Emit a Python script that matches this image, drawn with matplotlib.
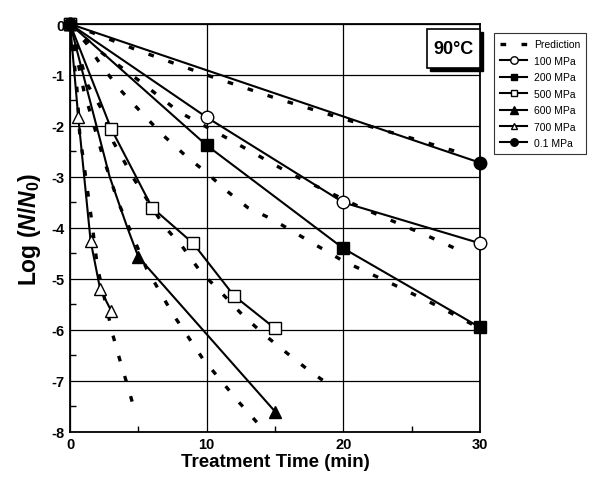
import matplotlib
matplotlib.use("Agg")
import matplotlib.pyplot as plt
from matplotlib.patches import Rectangle
from matplotlib.ticker import MultipleLocator

plt.rcParams["font.family"] = ["Liberation Sans", "DejaVu Sans"]
plt.rcParams["font.weight"] = "bold"
plt.rcParams["axes.unicode_minus"] = False
plt.rcParams["mathtext.fontset"] = "custom"
plt.rcParams["mathtext.it"] = "Liberation Sans:italic:bold"
plt.rcParams["mathtext.rm"] = "Liberation Sans:bold"

# measured survival, log(N/N0) vs treatment time (min)
t_01 = [0, 30]
y_01 = [0, -2.72]
t_100 = [0, 10, 20, 30]
y_100 = [0, -1.83, -3.5, -4.3]
t_200 = [0, 10, 20, 30]
y_200 = [0, -2.38, -4.4, -5.95]
t_500 = [0, 3, 6, 9, 12, 15]
y_500 = [0, -2.05, -3.6, -4.3, -5.33, -5.97]
t_600 = [0, 2.9, 4.2, 5, 15]
y_600 = [0, -3.0, -4.0, -4.57, -7.6]
t_700 = [0, 0.6, 1.5, 2.2, 3.0]
y_700 = [0, -1.83, -4.25, -5.2, -5.62]

# model predictions
pt_01 = [0, 5, 10, 15, 20, 25, 29]
py_01 = [0, -0.52, -1.0, -1.45, -1.86, -2.24, -2.56]
pt_100 = [0, 2, 5, 8, 11.5, 16.3, 21.3, 26.2, 29]
py_100 = [0, -0.5, -1.1, -1.73, -2.24, -2.96, -3.6, -4.16, -4.5]
pt_200 = [0, 1.25, 2.3, 3.7, 5.2, 6.8, 8.4, 10, 11.5, 13, 14.8, 16.5, 20, 23.6, 26.9, 29.5]
py_200 = [0, -0.4, -0.82, -1.3, -1.73, -2.18, -2.57, -2.92, -3.28, -3.6, -3.83, -4.1, -4.65, -5.1, -5.53, -5.9]
pt_500 = [0, 1.3, 2.35, 3.2, 4.7, 6.9, 8.2, 9.5, 11, 12.6, 14.2, 15.9, 17.5, 19.2]
py_500 = [0, -1.2, -1.69, -2.33, -3.05, -3.97, -4.36, -4.84, -5.25, -5.7, -6.09, -6.46, -6.8, -7.12]
pt_600 = [0, 1, 2.4, 3.5, 5.6, 7.5, 9.7, 12.4, 14.3]
py_600 = [0, -1.3, -2.6, -3.48, -4.8, -5.68, -6.56, -7.43, -8.0]
pt_700 = [0, 0.5, 0.7, 1.6, 2.0, 3.1, 3.6, 4.1, 4.7]
py_700 = [0, -1.27, -2.14, -3.9, -4.77, -6.07, -6.55, -7.0, -7.55]

fig = plt.figure(figsize=(5.94, 4.81), dpi=100)
ax = fig.add_axes([0.118, 0.1, 0.69, 0.848])

pred = dict(color="black", lw=2.4, ls=(0, (1.7, 4.6)), dash_capstyle="butt")
for pt, py in [(pt_01, py_01), (pt_100, py_100), (pt_200, py_200),
               (pt_500, py_500), (pt_600, py_600), (pt_700, py_700)]:
    ax.plot(pt, py, **pred)
ax.plot([], [], label="Prediction", **pred)

kw = dict(color="black", lw=1.5, clip_on=False, zorder=5)
ax.plot(t_100, y_100, marker="o", ms=9, mfc="white", mec="black", label="100 MPa", **kw)
ax.plot(t_200, y_200, marker="s", ms=8, mfc="black", mec="black", label="200 MPa", **kw)
ax.plot(t_500, y_500, marker="s", ms=8, mfc="white", mec="black", label="500 MPa", **kw)
ax.plot(t_600, y_600, marker="^", ms=9, mfc="black", mec="black", markevery=[0, 3, 4],
        label="600 MPa", **kw)
ax.plot(t_700, y_700, marker="^", ms=8, mfc="white", mec="black", label="700 MPa", **kw)
ax.plot(t_01, y_01, marker="o", ms=9, mfc="black", mec="black", label="0.1 MPa", **kw)

ax.set_xlim(0, 30)
ax.set_ylim(-8, 0)
ax.xaxis.set_major_locator(MultipleLocator(10))
ax.xaxis.set_minor_locator(MultipleLocator(5))
ax.yaxis.set_major_locator(MultipleLocator(1))
ax.yaxis.set_minor_locator(MultipleLocator(0.5))
ax.tick_params(which="both", direction="in", labelsize=10.5, width=1)
ax.tick_params(which="major", length=0, pad=4)
ax.tick_params(which="minor", length=4)
ax.grid(True, which="major", color="black", lw=0.9)
for s in ax.spines.values():
    s.set_linewidth(1.3)
for lab in ax.get_xticklabels() + ax.get_yticklabels():
    lab.set_fontweight("bold")

ax.set_xlabel("Treatment Time (min)", fontsize=13.5, fontweight="bold", labelpad=1)
ax.set_ylabel(r"Log ($N/N_0$)", fontsize=16.5, fontweight="bold", labelpad=6)

# temperature box with shadow
ax.add_patch(Rectangle((0.877, 0.885), 0.13, 0.095, transform=ax.transAxes,
                       facecolor="black", edgecolor="black", clip_on=False, zorder=6))
ax.add_patch(Rectangle((0.87, 0.893), 0.13, 0.095, transform=ax.transAxes,
                       facecolor="white", edgecolor="black", lw=1.2, clip_on=False, zorder=7))
ax.text(0.935, 0.94, "90°C", transform=ax.transAxes, ha="center", va="center",
        fontsize=13, fontweight="bold", zorder=8)

leg = ax.legend(loc="upper left", bbox_to_anchor=(0.823, 0.94), bbox_transform=fig.transFigure,
                frameon=True, fancybox=False, edgecolor="black",
                handlelength=2.6, handletextpad=0.6, labelspacing=0.62,
                borderpad=0.6, markerscale=0.6,
                prop={"family": "Liberation Sans", "weight": "normal", "size": 7.5})
leg.get_frame().set_linewidth(0.8)

fig.savefig("out.png", dpi=100)
